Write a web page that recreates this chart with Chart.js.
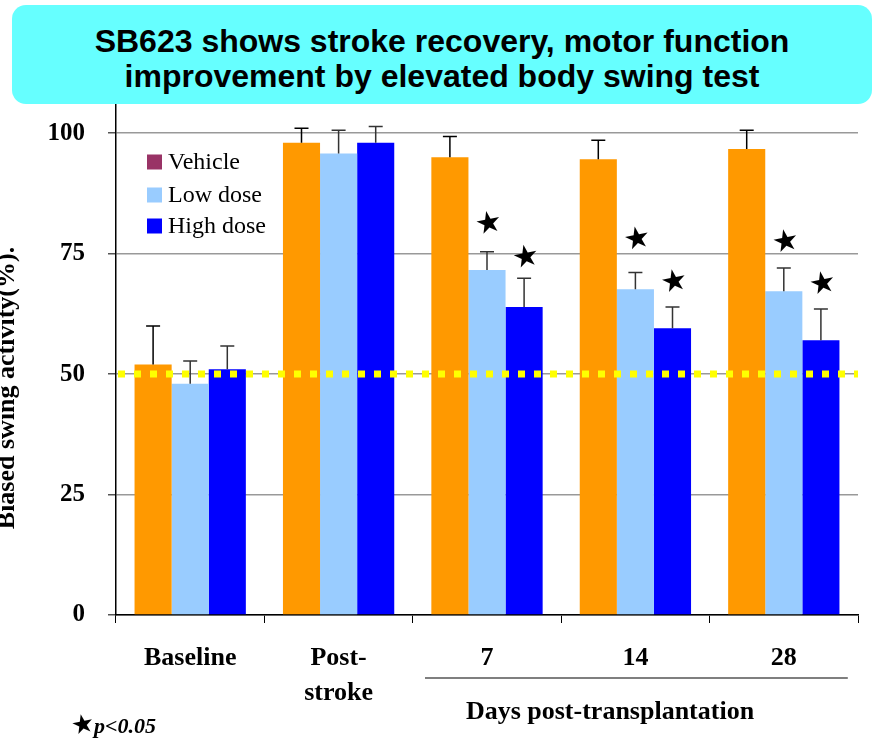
<!DOCTYPE html>
<html>
<head>
<meta charset="utf-8">
<script src="https://cdn.jsdelivr.net/npm/chart.js@4/dist/chart.umd.min.js"></script>
<style>
  body { margin: 0; background: #fff; }
  #wrap { position: relative; width: 877px; height: 748px; }
  #title {
    position: absolute; left: 12px; top: 5px; width: 860px; height: 99px;
    background: #66ffff; border-radius: 14px; box-sizing: border-box;
    padding-top: 19px; text-align: center;
    font: bold 32px 'Liberation Sans', Arial, sans-serif; line-height: 35px; color: #000;
  }
  canvas { position: absolute; left: 0; top: 0; }
</style>
</head>
<body>
<div id="wrap">
  <canvas id="chart" width="877" height="748"></canvas>
  <div id="title">SB623 shows stroke recovery, motor function<br>improvement by elevated body swing test</div>
</div>
<script>
const categories = [['Baseline'], ['Post-', 'stroke'], ['7'], ['14'], ['28']];
const seriesNames = ['Vehicle', 'Low dose', 'High dose'];
const vehicle = [52, 98, 95, 94.6, 96.7];
const vehicleErr = [8, 3, 4.3, 3.9, 3.9];
const lowDose = [48, 95.8, 71.6, 67.6, 67.2];
const lowDoseErr = [4.7, 4.8, 3.8, 3.5, 4.8];
const highDose = [51, 98, 63.9, 59.5, 57];
const highDoseErr = [4.8, 3.4, 6, 4.4, 6.5];
// where the significance stars sit (value units)
const starLow = [null, null, 81, 77.8, 77.2];
const starHigh = [null, null, 74, 68.9, 68.5];
const yTicks = [0, 25, 50, 75, 100];
const chanceLevel = 50;

const barColors = ['#ff9900', '#99ccff', '#0000ff'];
const legendColors = ['#993366', '#99ccff', '#0000ff'];
const errColors = ['#000', '#333', '#333'];
const serif = "'Liberation Serif', 'Times New Roman', serif";

const errorBars = {
  id: 'errorBars',
  afterDatasetsDraw(chart) {
    const { ctx, scales: { y } } = chart;
    ctx.save();
    chart.data.datasets.forEach((ds, i) => {
      const meta = chart.getDatasetMeta(i);
      meta.data.forEach((bar, j) => {
        const top = y.getPixelForValue(ds.data[j] + ds.errors[j]);
        ctx.strokeStyle = errColors[i];
        ctx.lineWidth = 1.5;
        ctx.beginPath();
        ctx.moveTo(bar.x, bar.y);
        ctx.lineTo(bar.x, top);
        ctx.moveTo(bar.x - 7, top);
        ctx.lineTo(bar.x + 7, top);
        ctx.stroke();
      });
    });

    // dotted yellow 50% line
    const yy = y.getPixelForValue(chanceLevel);
    ctx.strokeStyle = '#ffff00';
    ctx.lineWidth = 7;
    ctx.setLineDash([7, 9]);
    ctx.beginPath();
    ctx.moveTo(chart.chartArea.left + 2, yy);
    ctx.lineTo(chart.chartArea.right, yy);
    ctx.stroke();
    ctx.setLineDash([]);

    // significance stars
    ctx.fillStyle = '#000';
    ctx.font = "30px 'DejaVu Sans'";
    ctx.textAlign = 'center';
    ctx.textBaseline = 'middle';
    [[1, starLow], [2, starHigh]].forEach(([di, vals]) => {
      const meta = chart.getDatasetMeta(di);
      vals.forEach((v, j) => {
        if (v == null) return;
        ctx.save();
        ctx.translate(meta.data[j].x + 2, y.getPixelForValue(v));
        ctx.rotate(-0.2);
        ctx.fillText('★', 0, 0);
        ctx.restore();
      });
    });
    ctx.restore();
  },
  afterDraw(chart) {
    const { ctx } = chart;
    ctx.save();
    // legend inside plot
    ctx.font = '24px ' + serif;
    ctx.textBaseline = 'middle';
    ctx.textAlign = 'left';
    const rows = [162, 195, 226];
    seriesNames.forEach((name, i) => {
      ctx.fillStyle = legendColors[i];
      ctx.fillRect(147, rows[i] - 7.5, 15, 15);
      ctx.fillStyle = '#000';
      ctx.fillText(name, 168, rows[i] + 1);
    });

    // y axis title (clipped on the left like the original)
    ctx.save();
    ctx.translate(7, 388);
    ctx.rotate(-Math.PI / 2);
    ctx.font = 'bold 26px ' + serif;
    ctx.textAlign = 'center';
    ctx.fillText('Biased swing activity(%).', 0, 0);
    ctx.restore();

    // days group bracket
    const x = chart.scales.x;
    const x0 = x.getPixelForValue(2) - 62;
    const x1 = x.getPixelForValue(4) + 64;
    ctx.strokeStyle = '#000';
    ctx.lineWidth = 1.2;
    ctx.beginPath();
    ctx.moveTo(x0, 678);
    ctx.lineTo(x1, 678);
    ctx.stroke();
    ctx.font = 'bold 26px ' + serif;
    ctx.textAlign = 'center';
    ctx.fillText('Days post-transplantation', 610, 712);

    // p value note
    ctx.textAlign = 'left';
    ctx.save();
    ctx.translate(83, 726);
    ctx.rotate(-0.2);
    ctx.textAlign = 'center';
    ctx.font = "26px 'DejaVu Sans'";
    ctx.fillText('★', 0, 0);
    ctx.restore();
    ctx.font = 'italic bold 22px ' + serif;
    ctx.fillText('p<0.05', 94, 727);
    ctx.restore();
  }
};

new Chart(document.getElementById('chart'), {
  type: 'bar',
  data: {
    labels: categories,
    datasets: [
      { label: seriesNames[0], data: vehicle, errors: vehicleErr, backgroundColor: barColors[0] },
      { label: seriesNames[1], data: lowDose, errors: lowDoseErr, backgroundColor: barColors[1] },
      { label: seriesNames[2], data: highDose, errors: highDoseErr, backgroundColor: barColors[2] }
    ]
  },
  options: {
    responsive: false,
    animation: false,
    layout: { padding: { left: 0, right: 19, top: 97, bottom: 0 } },
    datasets: { bar: { categoryPercentage: 0.75, barPercentage: 1 } },
    plugins: { legend: { display: false }, tooltip: { enabled: false } },
    scales: {
      x: {
        afterFit: s => { s.height = 133; },
        grid: { offset: true, drawOnChartArea: false, drawTicks: true, tickLength: 8, tickColor: '#000' },
        border: { color: '#000', width: 1.5 },
        ticks: {
          color: '#000', padding: 18, maxRotation: 0,
          font: { family: serif, size: 26, weight: 'bold', lineHeight: 1.35 }
        }
      },
      y: {
        min: 0,
        max: 107.5,
        afterFit: s => { s.width = 116; },
        afterBuildTicks: s => { s.ticks = yTicks.map(v => ({ value: v })); },
        grid: { color: '#999', lineWidth: 1.5, tickLength: 8, tickColor: '#555' },
        border: { color: '#000', width: 1.5 },
        ticks: {
          color: '#000', padding: 23,
          font: { family: serif, size: 25, weight: 'bold' }
        }
      }
    }
  },
  plugins: [errorBars]
});
</script>
</body>
</html>
